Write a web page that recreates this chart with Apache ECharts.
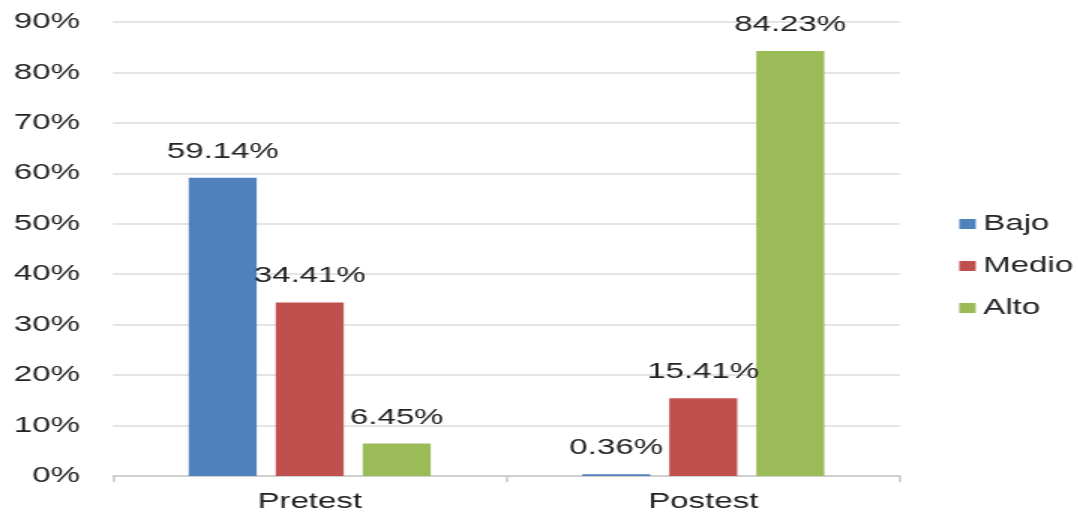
<!DOCTYPE html>
<html>
<head>
<meta charset="utf-8">
<script src="https://cdn.jsdelivr.net/npm/echarts@6/dist/echarts.min.js"></script>
<style>
html,body{margin:0;padding:0;background:#fff;overflow:hidden;width:1078px;height:515px;}
#chart{width:719px;height:515px;transform:scaleX(1.5);transform-origin:0 0;}
</style>
</head>
<body>
<div id="chart"></div>
<script>
const categories = ['Pretest', 'Postest'];
const seriesNames = ['Bajo', 'Medio', 'Alto'];
const bajo = [59.14, 0.36];
const medio = [34.41, 15.41];
const alto = [6.45, 84.23];
const yTicks = [0, 10, 20, 30, 40, 50, 60, 70, 80, 90];
const colors = ['#4F81BD', '#C0504D', '#9BBB59'];

const font = 'Liberation Sans, Arial, sans-serif';
const textColor = '#222222';
const chart = echarts.init(document.getElementById('chart'), null, {renderer: 'canvas'});
const values = [bajo, medio, alto];
chart.setOption({
  animation: false,
  color: colors,
  grid: {left: 75.3, right: 119, top: 22, bottom: 39, containLabel: false},
  legend: {
    orient: 'vertical',
    left: 634.5,
    top: 208,
    itemWidth: 11,
    itemHeight: 10,
    itemGap: 20,
    icon: 'rect',
    data: seriesNames,
    textStyle: {fontFamily: font, fontSize: 22, color: textColor}
  },
  xAxis: {
    type: 'category',
    data: categories,
    axisLine: {show: true, lineStyle: {color: '#c8c8c8', width: 1.5}},
    axisTick: {show: true, length: 6, lineStyle: {color: '#c8c8c8', width: 1.5}},
    axisLabel: {fontFamily: font, fontSize: 22, color: textColor, margin: 15}
  },
  yAxis: {
    type: 'value',
    min: yTicks[0],
    max: yTicks[yTicks.length - 1],
    interval: 10,
    axisLine: {show: false},
    axisTick: {show: false},
    splitLine: {lineStyle: {color: '#dcdcdc', width: 1.5}},
    axisLabel: {fontFamily: font, fontSize: 22, color: textColor, margin: 22, formatter: v => v + '%'}
  },
  series: seriesNames.map((name, i) => ({
    name: name,
    type: 'bar',
    data: values[i],
    barGap: '28%',
    barCategoryGap: '38.5%',
    label: {
      show: true,
      position: 'top',
      distance: 15,
      fontFamily: font,
      fontSize: 22,
      color: textColor,
      formatter: p => p.value.toFixed(2) + '%'
    }
  }))
});
</script>
</body>
</html>
